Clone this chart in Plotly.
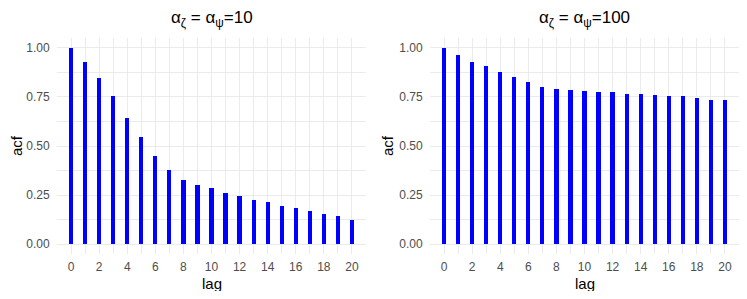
import plotly.graph_objects as go

lags = list(range(21))
acf_10 = [1.00, 0.930, 0.847, 0.753, 0.645, 0.545, 0.447, 0.378, 0.329, 0.300, 0.284,
          0.263, 0.246, 0.226, 0.213, 0.197, 0.182, 0.170, 0.155, 0.142, 0.122]
acf_100 = [1.00, 0.965, 0.928, 0.905, 0.876, 0.851, 0.824, 0.802, 0.791, 0.785, 0.780,
           0.776, 0.773, 0.766, 0.763, 0.759, 0.756, 0.753, 0.743, 0.736, 0.734]
titles = ["α<sub>ζ</sub> = α<sub>ψ</sub>=10", "α<sub>ζ</sub> = α<sub>ψ</sub>=100"]
x_ticks = list(range(0, 21, 2))
y_ticks = [0.0, 0.25, 0.5, 0.75, 1.0]

FONT = "Liberation Sans, Arial, sans-serif"
# page body has an 8px margin; size the figure so the page fits the 747x299 window
OFF = 8
W, H = 747 - 2 * OFF, 299 - 2 * OFF


def fx(s):
    return (s - OFF) / W


def fy(s):
    return 1 - (s - OFF) / H


fig = go.Figure()

panels = [
    dict(x="x", y="y", data=acf_10, px=(57, 366), ylab_x=17),
    dict(x="x2", y="y2", data=acf_100, px=(430, 739), ylab_x=388),
]
top_px, bot_px = 38, 254
ydom = [fy(bot_px), fy(top_px)]

for i, p in enumerate(panels):
    fig.add_trace(go.Bar(x=lags, y=p["data"], width=0.3, marker=dict(color="#0000ff", line=dict(width=0)),
                         xaxis=p["x"], yaxis=p["y"], showlegend=False))
    xdom = [fx(p["px"][0]), fx(p["px"][1])]
    suffix = "" if i == 0 else "2"
    common_grid = dict(showgrid=True, gridcolor="#ebebeb", gridwidth=1.2, zeroline=False,
                       showline=False, ticks="outside", tickcolor="rgba(0,0,0,0)",
                       automargin=False,
                       tickfont=dict(family=FONT, size=12, color="#4d4d4d"))
    fig.update_layout(**{
        "xaxis" + suffix: dict(domain=xdom, range=[-1, 21], tickvals=x_ticks, ticklen=2,
                               anchor="y" + suffix,
                               minor=dict(dtick=1, tick0=1, showgrid=True, gridcolor="#ebebeb", gridwidth=0.6),
                               **common_grid),
        "yaxis" + suffix: dict(domain=ydom, range=[-0.05, 1.05], tickvals=y_ticks, tickformat=".2f", ticklen=4,
                               anchor="x" + suffix,
                               minor=dict(dtick=0.125, tick0=0.125, showgrid=True, gridcolor="#ebebeb", gridwidth=0.6),
                               **common_grid),
    })
    fig.add_annotation(text=titles[i], x=(xdom[0] + xdom[1]) / 2, y=fy(19), xref="paper", yref="paper",
                       showarrow=False, font=dict(family=FONT, size=17, color="#000000"),
                       xanchor="center", yanchor="middle")
    fig.add_annotation(text="lag", x=(xdom[0] + xdom[1]) / 2, y=fy(283), xref="paper", yref="paper",
                       showarrow=False, font=dict(family=FONT, size=15, color="#000000"),
                       xanchor="center", yanchor="middle")
    fig.add_annotation(text="acf", x=fx(p["ylab_x"]), y=(ydom[0] + ydom[1]) / 2, xref="paper", yref="paper",
                       showarrow=False, textangle=-90, font=dict(family=FONT, size=15, color="#000000"),
                       xanchor="center", yanchor="middle")

fig.update_layout(width=W, height=H, margin=dict(l=0, r=0, t=0, b=0),
                  plot_bgcolor="white", paper_bgcolor="white", bargap=0)
fig.write_html("out.html")
